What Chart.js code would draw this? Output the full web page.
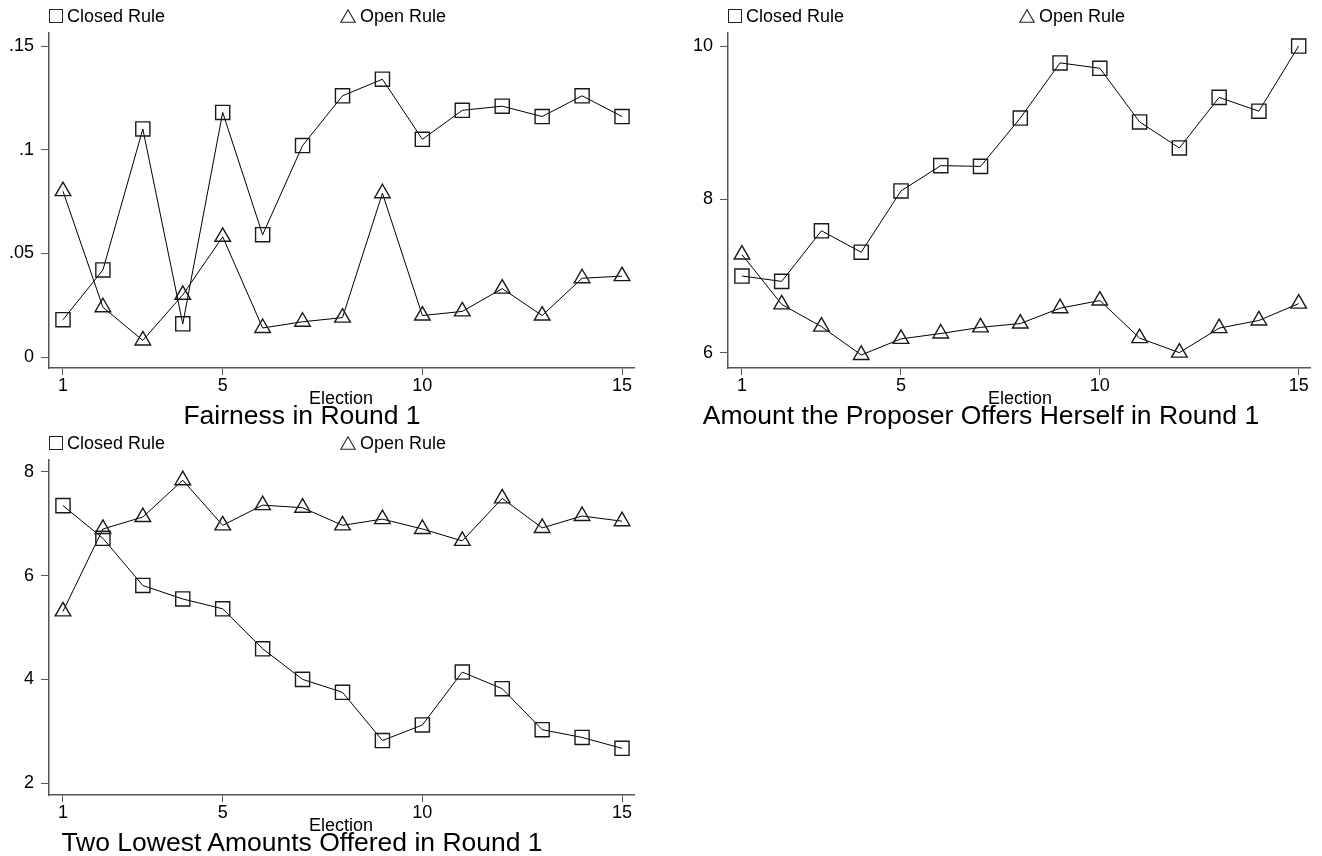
<!DOCTYPE html>
<html>
<head>
<meta charset="utf-8">
<script src="https://cdn.jsdelivr.net/npm/chart.js@4/dist/chart.umd.min.js"></script>
<style>
  body { margin: 0; background: #fff; width: 1322px; height: 856px; overflow: hidden; position: relative;
         font-family: "Liberation Sans", Arial, sans-serif; color: #000; }
  canvas { position: absolute; }
  .txt { position: absolute; white-space: nowrap; line-height: 1; }
  .leg { font-size: 18px; }
  .axt { font-size: 18px; transform: translateX(-50%); }
  .ttl { font-size: 26.5px; transform: translateX(-50%); }
  .sq { position: absolute; width: 12px; height: 12px; border: 1px solid #222; }
  svg.tri { position: absolute; }
</style>
</head>
<body>

<canvas id="c1" width="650" height="395" style="left:0;top:0"></canvas>
<canvas id="c2" width="643" height="395" style="left:679px;top:0"></canvas>
<canvas id="c3" width="650" height="395" style="left:0;top:427px"></canvas>

<script>
// Election 1..15
const elections = [1,2,3,4,5,6,7,8,9,10,11,12,13,14,15];
const xTicks = [1, 5, 10, 15];

// Fairness in Round 1
const fairClosed = [0.018,0.042,0.110,0.016,0.118,0.059,0.102,0.126,0.134,0.105,0.119,0.121,0.116,0.126,0.116];
const fairOpen   = [0.080,0.024,0.008,0.030,0.058,0.014,0.017,0.019,0.079,0.020,0.022,0.033,0.020,0.038,0.039];
const fairTicks  = [0, 0.05, 0.1, 0.15];

// Amount the Proposer Offers Herself in Round 1
const selfClosed = [7.00,6.93,7.59,7.31,8.11,8.44,8.43,9.06,9.78,9.71,9.01,8.67,9.33,9.15,10.0];
const selfOpen   = [7.28,6.63,6.34,5.97,6.18,6.25,6.33,6.38,6.58,6.68,6.19,6.00,6.32,6.42,6.64];
const selfTicks  = [6, 8, 10];

// Two Lowest Amounts Offered in Round 1
const lowClosed = [7.35,6.72,5.81,5.55,5.36,4.59,4.00,3.75,2.82,3.12,4.14,3.82,3.03,2.88,2.67];
const lowOpen   = [5.31,6.90,7.13,7.84,6.97,7.36,7.31,6.97,7.09,6.90,6.67,7.49,6.92,7.15,7.05];
const lowTicks  = [2, 4, 6, 8];

const seriesNames = ['Closed Rule', 'Open Rule'];
const titles = ['Fairness in Round 1', 'Amount the Proposer Offers Herself in Round 1', 'Two Lowest Amounts Offered in Round 1'];

const axisColor = '#555';
const font = { family: '"Liberation Sans", Arial, sans-serif', size: 18 };

function pts(vals) {
  return vals.map((v, i) => ({ x: elections[i], y: v }));
}

function fmtFair(v) {
  return v === 0 ? '0' : String(v).replace(/^0/, '');
}

function makePanel(id, closed, open, yMin, yMax, yTicks, yFmt, rightPad) {
  new Chart(document.getElementById(id), {
    type: 'line',
    data: {
      datasets: [
        { label: seriesNames[0], data: pts(closed), pointStyle: 'rect', pointRadius: 10,
          borderColor: '#000', borderWidth: 1, pointBorderColor: '#1a1a1a', pointBorderWidth: 1.4,
          pointBackgroundColor: 'rgba(0,0,0,0)', tension: 0, clip: false },
        { label: seriesNames[1], data: pts(open), pointStyle: 'triangle', pointRadius: 9,
          borderColor: '#000', borderWidth: 1, pointBorderColor: '#1a1a1a', pointBorderWidth: 1.4,
          pointBackgroundColor: 'rgba(0,0,0,0)', tension: 0, clip: false }
      ]
    },
    options: {
      responsive: false,
      animation: false,
      layout: { padding: { top: 33, right: rightPad, left: 0, bottom: 0 } },
      plugins: { legend: { display: false }, tooltip: { enabled: false } },
      scales: {
        x: {
          type: 'linear', min: 0.65, max: 15.3,
          afterBuildTicks: s => { s.ticks = xTicks.map(v => ({ value: v })); },
          afterFit: s => { s.height = 27; },
          grid: { drawOnChartArea: false, color: axisColor, tickLength: 7, lineWidth: 1 },
          border: { display: true, color: axisColor, width: 1.5 },
          ticks: { color: '#000', font, padding: 0, maxRotation: 0 }
        },
        y: {
          type: 'linear', min: yMin, max: yMax,
          afterBuildTicks: s => { s.ticks = yTicks.map(v => ({ value: v })); },
          afterFit: s => { s.width = 49; },
          grid: { drawOnChartArea: false, color: axisColor, tickLength: 8, lineWidth: 1 },
          border: { display: true, color: axisColor, width: 1.5 },
          ticks: { color: '#000', font, padding: 7, callback: yFmt }
        }
      }
    }
  });
}

makePanel('c1', fairClosed, fairOpen, -0.0053, 0.1563, fairTicks, fmtFair, 16);
makePanel('c2', selfClosed, selfOpen, 5.80, 10.17, selfTicks, v => String(v), 11);
makePanel('c3', lowClosed, lowOpen, 1.77, 8.23, lowTicks, v => String(v), 16);

// legends, axis titles, panel titles
function addText(cls, text, left, top) {
  const d = document.createElement('div');
  d.className = 'txt ' + cls;
  d.textContent = text;
  d.style.left = left + 'px';
  d.style.top = top + 'px';
  document.body.appendChild(d);
}
function addLegend(plotLeft, top) {
  const sq = document.createElement('div');
  sq.className = 'sq';
  sq.style.left = plotLeft + 'px';
  sq.style.top = (top - 7) + 'px';
  document.body.appendChild(sq);
  addText('leg', seriesNames[0], plotLeft + 18, top - 9);
  const tx = plotLeft + 291;
  const svg = document.createElementNS('http://www.w3.org/2000/svg', 'svg');
  svg.setAttribute('class', 'tri');
  svg.setAttribute('width', '16');
  svg.setAttribute('height', '14');
  svg.style.left = tx + 'px';
  svg.style.top = (top - 7) + 'px';
  svg.innerHTML = '<polygon points="8,0.8 15.2,13.2 0.8,13.2" fill="none" stroke="#222" stroke-width="1.1"/>';
  document.body.appendChild(svg);
  addText('leg', seriesNames[1], tx + 20, top - 9);
}

const panels = [
  { plotLeft: 49, plotCenter: 341, top: 0 },
  { plotLeft: 728, plotCenter: 1020, top: 0 },
  { plotLeft: 49, plotCenter: 341, top: 427 }
];
panels.forEach((p, i) => {
  addLegend(p.plotLeft, p.top + 16);
  addText('axt', 'Election', p.plotCenter, p.top + 389);
  addText('ttl', titles[i], p.plotCenter - 39, p.top + 402);
});
</script>
</body>
</html>
